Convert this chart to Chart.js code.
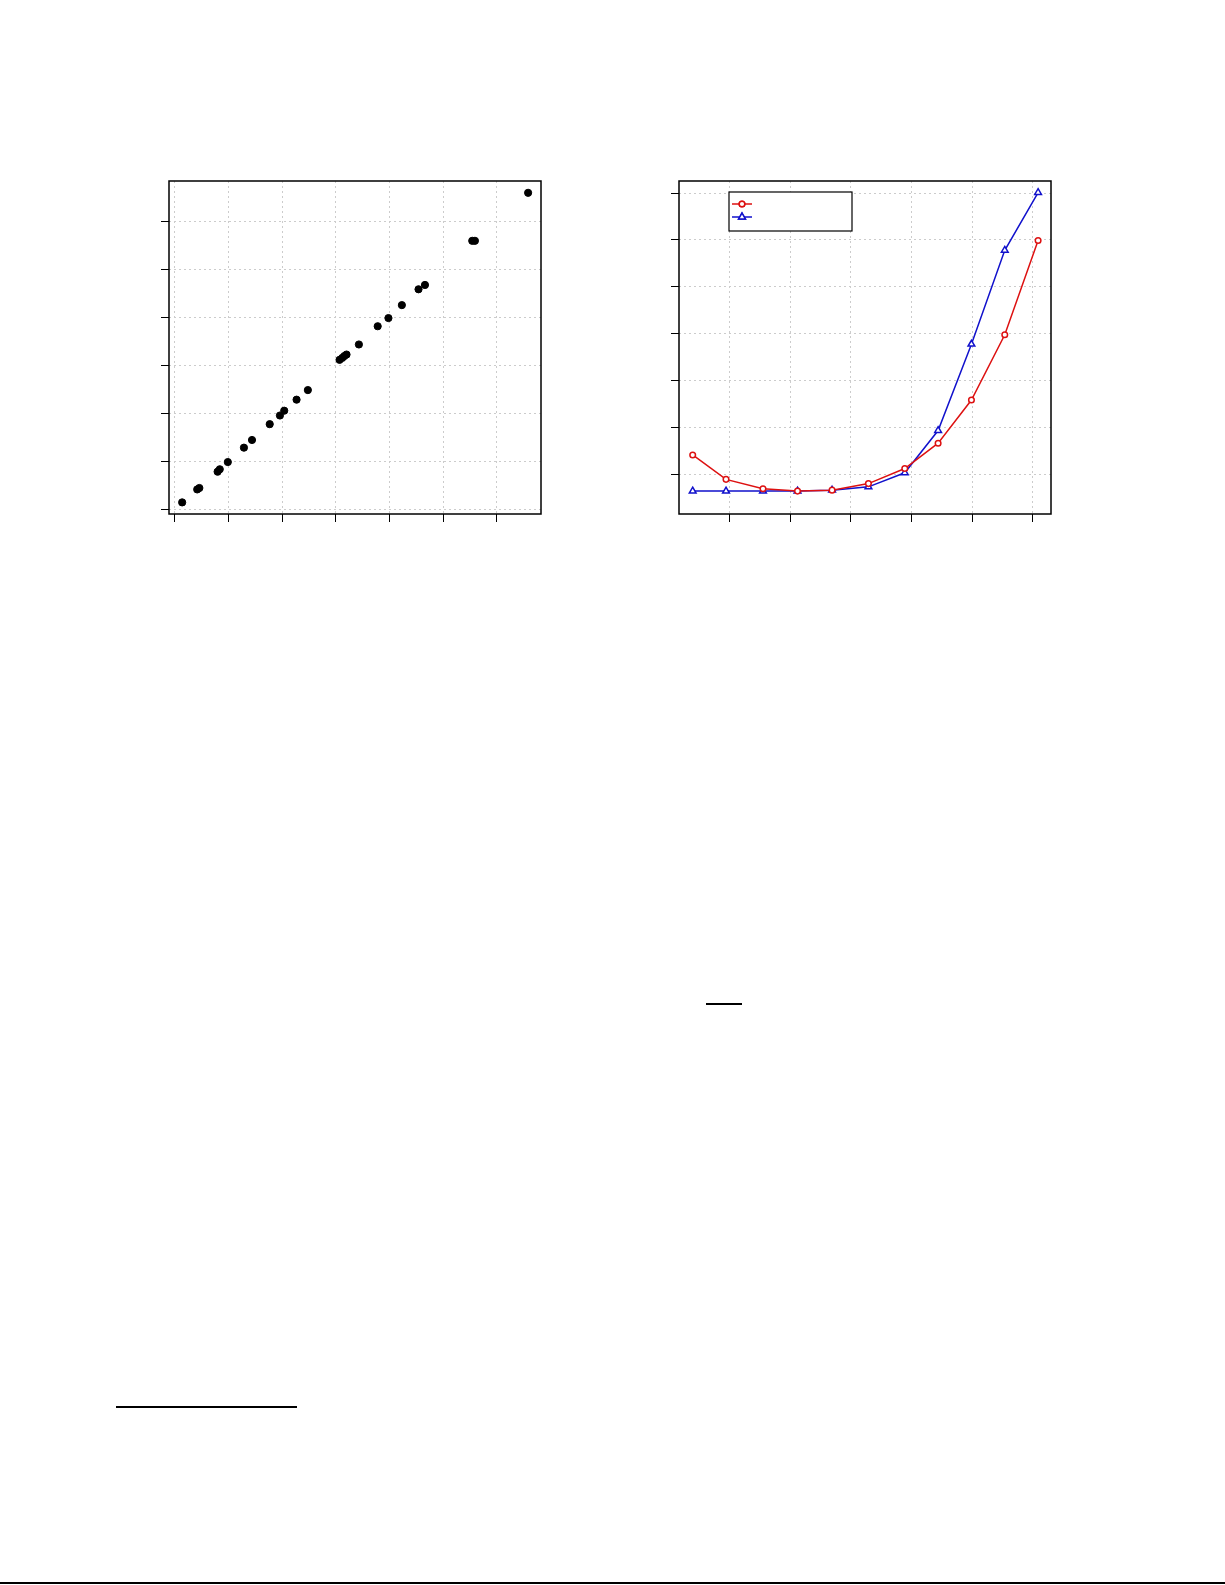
<!DOCTYPE html>
<html>
<head>
<meta charset="utf-8">
<script src="https://cdn.jsdelivr.net/npm/chart.js@4/dist/chart.umd.min.js"></script>
<style>
    body { margin: 0; background: #fff; width: 1225px; height: 1585px; position: relative; overflow: hidden; }
    .plot { position: absolute; width: 400px; height: 360px; }
    .rule { position: absolute; background: #000; height: 2px; }
</style>
</head>
<body>
<div class="plot" style="left:150px; top:170px;"><canvas id="scatterChart" width="400" height="360"></canvas></div>
<div class="plot" style="left:660px; top:170px;"><canvas id="lineChart" width="400" height="360"></canvas></div>
<div class="rule" style="left:706px; top:1003px; width:36px;"></div>
<div class="rule" style="left:116px; top:1406px; width:181px;"></div>
<div class="rule" style="left:0; top:1582px; width:1225px;"></div>
<script>
// left panel: quantile-style scatter
const scatterX = [0.14, 0.42, 0.46, 0.80, 0.84, 0.99, 1.29, 1.44, 1.77, 1.96, 2.04, 2.27, 2.48,
    3.07, 3.12, 3.16, 3.20, 3.43, 3.78, 3.98, 4.23, 4.54, 4.66, 5.54, 5.59, 6.58];
const scatterY = [0.15, 0.42, 0.45, 0.79, 0.84, 0.99, 1.29, 1.45, 1.78, 1.96, 2.06, 2.29, 2.49,
    3.12, 3.16, 3.20, 3.23, 3.44, 3.82, 3.99, 4.26, 4.59, 4.68, 5.60, 5.60, 6.60];
const scatterXTicks = [0, 1, 2, 3, 4, 5, 6];
const scatterYTicks = [0, 1, 2, 3, 4, 5, 6];

// right panel: two series
const lineX = [0.39, 0.94, 1.55, 2.12, 2.69, 3.29, 3.89, 4.44, 4.99, 5.54, 6.09];
const redSeries = [1.42, 0.90, 0.70, 0.65, 0.67, 0.81, 1.13, 1.67, 2.59, 3.98, 5.99];
const blueSeries = [0.65, 0.65, 0.65, 0.65, 0.67, 0.74, 1.04, 1.94, 3.78, 5.78, 7.01];
const lineXTicks = [1, 2, 3, 4, 5, 6];
const lineYTicks = [1, 2, 3, 4, 5, 6, 7];

const gridGrey = "#cccccc";
const red = "#dd1111";
const blue = "#1111cc";

function axis(min, max, ticks) {
    return {
        type: "linear",
        min: min,
        max: max,
        afterBuildTicks: function (scale) {
            scale.ticks = ticks.map(v => ({ value: v }));
        },
        ticks: { display: false },
        grid: { color: gridGrey, lineWidth: 1, tickColor: "#000", tickLength: 8, tickWidth: 1 },
        border: { display: false, dash: [2, 3] }
    };
}

const boxPlugin = {
    id: "box",
    afterDraw(chart) {
        const a = chart.chartArea;
        const ctx = chart.ctx;
        ctx.save();
        ctx.strokeStyle = "#000";
        ctx.lineWidth = 1.5;
        ctx.strokeRect(a.left, a.top, a.right - a.left, a.bottom - a.top);
        ctx.restore();
    }
};

const legendBox = {
    id: "legendBox",
    afterDraw(chart) {
        const ctx = chart.ctx;
        const x0 = chart.chartArea.left + 50;
        const y0 = chart.chartArea.top + 11;
        ctx.save();
        ctx.fillStyle = "#fff";
        ctx.fillRect(x0, y0, 123, 39);
        ctx.strokeStyle = "#000";
        ctx.lineWidth = 1.2;
        ctx.strokeRect(x0, y0, 123, 39);
        const rows = [
            { color: red, style: "circle", y: y0 + 12 },
            { color: blue, style: "triangle", y: y0 + 25 }
        ];
        rows.forEach(r => {
            ctx.strokeStyle = r.color;
            ctx.lineWidth = 1.5;
            ctx.beginPath();
            ctx.moveTo(x0 + 3, r.y);
            ctx.lineTo(x0 + 23, r.y);
            ctx.stroke();
            ctx.fillStyle = "#fff";
            Chart.helpers.drawPoint(ctx, {
                pointStyle: r.style, radius: r.style === "circle" ? 2.8 : 3.9,
                borderWidth: 1.5, rotation: 0
            }, x0 + 13, r.y);
            ctx.fill();
            ctx.stroke();
        });
        ctx.restore();
    }
};

new Chart(document.getElementById("scatterChart"), {
    type: "scatter",
    data: {
        datasets: [{
            data: scatterX.map((x, i) => ({ x: x, y: scatterY[i] })),
            backgroundColor: "#000",
            borderColor: "#000",
            pointRadius: 3.6
        }]
    },
    options: {
        responsive: false,
        animation: false,
        layout: { padding: { top: 11, right: 9, left: 11, bottom: 8 } },
        plugins: { legend: { display: false }, tooltip: { enabled: false } },
        scales: {
            x: axis(-0.105, 6.82, scatterXTicks),
            y: axis(-0.092, 6.846, scatterYTicks)
        }
    },
    plugins: [boxPlugin]
});

new Chart(document.getElementById("lineChart"), {
    type: "line",
    data: {
        datasets: [{
            data: lineX.map((x, i) => ({ x: x, y: redSeries[i] })),
            borderColor: red,
            backgroundColor: "#fff",
            borderWidth: 1.5,
            pointStyle: "circle",
            pointRadius: 2.8,
            pointBorderWidth: 1.5,
            tension: 0
        }, {
            data: lineX.map((x, i) => ({ x: x, y: blueSeries[i] })),
            borderColor: blue,
            backgroundColor: "#fff",
            borderWidth: 1.5,
            pointStyle: "triangle",
            pointRadius: 3.9,
            pointBorderWidth: 1.5,
            tension: 0
        }]
    },
    options: {
        responsive: false,
        animation: false,
        layout: { padding: { top: 11, right: 9, left: 11, bottom: 8 } },
        plugins: { legend: { display: false }, tooltip: { enabled: false } },
        scales: {
            x: axis(0.164, 6.303, lineXTicks),
            y: axis(0.162, 7.256, lineYTicks)
        }
    },
    plugins: [boxPlugin, legendBox]
});
</script>
</body>
</html>
